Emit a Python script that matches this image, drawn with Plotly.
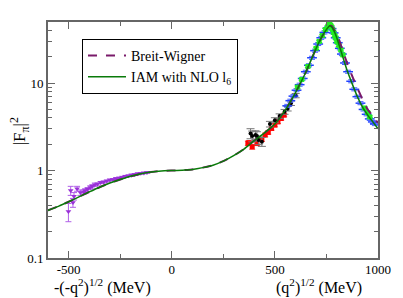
import plotly.graph_objects as go

# ---- theory curves (q in MeV, |F|^2) ----
iam_q = [-600, -550, -500, -450, -400, -350, -300, -250, -200, -150, -100, -50, 0, 50, 100, 150, 200, 250, 300, 350, 400, 450, 500, 550, 600, 650, 700, 725, 750, 765, 775, 790, 800, 825, 850, 875, 900, 925, 950, 975, 1000]
iam_v = [0.35, 0.39, 0.44, 0.50, 0.57, 0.645, 0.72, 0.79, 0.86, 0.92, 0.965, 0.99, 1.0, 1.01, 1.03, 1.08, 1.15, 1.28, 1.48, 1.76, 2.2, 2.7, 3.4, 4.9, 7.8, 13.3, 25, 33, 41, 45, 44, 38, 33, 21.5, 14, 9.8, 7.0, 5.3, 4.3, 3.6, 3.0]

bw_q = [-600, -550, -500, -450, -400, -350, -300, -250, -200, -150, -100, -50, 0, 50, 100, 150, 200, 250, 300, 350, 400, 450, 500, 550, 600, 650, 700, 725, 750, 765, 775, 790, 800, 825, 850, 875, 900, 925, 950, 975, 1000]
bw_v = [0.35, 0.39, 0.44, 0.50, 0.57, 0.645, 0.72, 0.79, 0.86, 0.92, 0.965, 0.99, 1.0, 1.01, 1.03, 1.08, 1.15, 1.28, 1.48, 1.76, 2.2, 2.7, 3.4, 4.9, 7.8, 13.3, 25, 33, 41, 45, 45, 40, 37, 25, 17, 12, 8.8, 6.5, 5.0, 4.2, 3.5]

# ---- data sets ----
violet_q = [-501, -490, -479, -474, -459, -443, -427, -420, -408, -395, -385, -373, -360, -345, -330, -315, -300, -285, -270, -255, -240, -225, -210, -195, -180, -165, -150, -135, -120]
violet_v = [0.34, 0.59, 0.43, 0.51, 0.62, 0.56, 0.57, 0.59, 0.61, 0.64, 0.66, 0.69, 0.70, 0.73, 0.74, 0.76, 0.78, 0.79, 0.81, 0.82, 0.84, 0.86, 0.87, 0.89, 0.90, 0.92, 0.93, 0.94, 0.95]
violet_e = [0.08, 0.07, 0.05, 0.05, 0.04, 0.04, 0.03, 0.03, 0.03, 0.03, 0.03, 0.03, 0.02, 0.02, 0.02, 0.02, 0.02, 0.02, 0.02, 0.02, 0.02, 0.02, 0.02, 0.02, 0.02, 0.02, 0.02, 0.02, 0.02]

red_q = [369, 374, 390, 413, 437, 453, 468, 484, 500, 515, 531, 545]
red_v = [2.05, 2.08, 1.87, 2.05, 2.27, 2.55, 2.73, 3.03, 3.31, 3.6, 3.94, 4.3]
red_e = [0.12, 0.12, 0.12, 0.12, 0.12, 0.12, 0.12, 0.13, 0.14, 0.15, 0.16, 0.17]

black_q = [382, 390, 406, 413, 421, 437, 476, 500, 523, 547, 562, 578, 601]
black_v = [2.66, 2.48, 2.55, 2.48, 2.23, 2.14, 3.4, 3.77, 4.2, 4.7, 5.1, 5.9, 7.2]
black_e = [0.35, 0.35, 0.3, 0.3, 0.25, 0.25, 0.25, 0.25, 0.25, 0.3, 0.3, 0.35, 0.4]

blue_q = [560, 575, 590, 605, 620, 635, 650, 665, 680, 695, 710, 725, 740, 755, 765, 775, 785, 795, 805, 815, 825, 840, 855, 870, 885, 900, 915, 930, 945, 960, 975, 985]
blue_v = [5.5, 6.3, 7.1, 8.3, 9.6, 11.3, 13.5, 16, 19.5, 23.5, 28, 33, 38, 42.5, 44, 42, 37.5, 33, 29, 25, 21.5, 17, 13.5, 10.5, 8.5, 7.0, 5.9, 5.0, 4.4, 3.9, 3.6, 3.4]

lime_q = [610, 630, 660, 700, 715, 730, 745, 755, 760, 765, 770, 775, 780, 785, 790, 795, 800, 810, 820, 830, 935, 950, 960]
lime_v = [9.0, 11, 15.5, 25, 30, 35, 41, 44, 46, 47, 46, 44, 41, 38, 35, 33, 30, 27, 24, 21, 5.2, 4.6, 4.1]

SERIF = "Liberation Serif, Times New Roman, serif"

fig = go.Figure()

fig.add_trace(go.Scatter(
    x=violet_q, y=violet_v, mode="markers", showlegend=False,
    marker=dict(symbol="triangle-down", size=5, color="#9a30d8"),
    error_y=dict(type="data", array=violet_e, color="#b060e8", thickness=1, width=3)))
fig.add_trace(go.Scatter(
    x=red_q, y=red_v, mode="markers", showlegend=False,
    marker=dict(symbol="square", size=5, color="#ff0000"),
    error_y=dict(type="data", array=red_e, color="#ff6060", thickness=1, width=3)))
fig.add_trace(go.Scatter(
    x=black_q, y=black_v, mode="markers", showlegend=False,
    marker=dict(symbol="circle", size=4, color="#000000"),
    error_y=dict(type="data", array=black_e, color="#777777", thickness=1, width=4)))
fig.add_trace(go.Scatter(
    x=blue_q, y=blue_v, mode="markers", showlegend=False,
    marker=dict(symbol="line-ew", size=7, color="#2040ff", line=dict(width=1.5, color="#2040ff")),
    error_y=dict(type="percent", value=4, color="#4060ff", thickness=1, width=3)))
fig.add_trace(go.Scatter(
    x=lime_q, y=lime_v, mode="markers", showlegend=False,
    marker=dict(symbol="square", size=5, color="#22ee22"),
    error_y=dict(type="percent", value=3, color="#22ee22", thickness=1, width=3)))

fig.add_trace(go.Scatter(
    x=bw_q, y=bw_v, mode="lines", name="Breit-Wigner",
    line=dict(color="#7a1a6a", width=2, dash="dash", shape="spline", smoothing=0.5)))
fig.add_trace(go.Scatter(
    x=iam_q, y=iam_v, mode="lines", name="IAM with NLO l<sub>6</sub>",
    line=dict(color="#0a7a0a", width=1.5, shape="spline", smoothing=0.5)))

axis_common = dict(showline=True, linecolor="#666666", linewidth=2, mirror="ticks",
                   ticks="inside", ticklen=7, tickwidth=1, tickcolor="#666666",
                   showgrid=False, zeroline=False,
                   tickfont=dict(family=SERIF, size=13, color="#000000"))

fig.update_xaxes(range=[-600, 1000], tickvals=[-500, 0, 500, 1000],
                 ticktext=["-500", "0", "500", "1000"], ticklabelstandoff=-2,
                 minor=dict(tickvals=[-250, 250, 750], ticks="inside", ticklen=4,
                            tickcolor="#666666", showgrid=False),
                 **axis_common)
fig.update_yaxes(type="log", range=[-1, 1.699], tickvals=[0.1, 1, 10],
                 ticktext=["0.1", "1", "10"],
                 minor=dict(tickvals=[0.2, 0.3, 0.4, 0.5, 0.6, 0.7, 0.8, 0.9,
                                      2, 3, 4, 5, 6, 7, 8, 9, 20, 30, 40, 50],
                            ticks="inside", ticklen=4, tickcolor="#666666", showgrid=False),
                 **axis_common)

# the page body adds an 8 px offset, so the figure is 395x290 with shifted margins
fig.update_layout(
    width=395, height=290,
    margin=dict(l=40, r=15, t=13, b=40),
    paper_bgcolor="white", plot_bgcolor="white",
    font=dict(family=SERIF, size=14, color="#000000"),
    legend=dict(x=0.103, y=0.928, xanchor="left", yanchor="top",
                bgcolor="white", bordercolor="#000000", borderwidth=1,
                font=dict(family=SERIF, size=14), tracegroupgap=0,
                itemwidth=38),
    annotations=[
        dict(text="-(-q<sup>2</sup>)<sup>1/2</sup> (MeV)", x=(104 - 48) / 340, y=-0.168,
             xref="paper", yref="paper", xanchor="center", yanchor="bottom",
             borderpad=0, showarrow=False, font=dict(family=SERIF, size=16)),
        dict(text="(q<sup>2</sup>)<sup>1/2</sup> (MeV)", x=(327 - 48) / 340, y=-0.168,
             xref="paper", yref="paper", xanchor="center", yanchor="bottom",
             borderpad=0, showarrow=False, font=dict(family=SERIF, size=16)),
        dict(text="|F<sub>π</sub>|<sup>2</sup>", x=(19 - 48) / 340, y=0.536,
             xref="paper", yref="paper", xanchor="center", yanchor="middle",
             textangle=-90, showarrow=False, font=dict(family=SERIF, size=17)),
    ],
)

fig.write_html("out.html")
